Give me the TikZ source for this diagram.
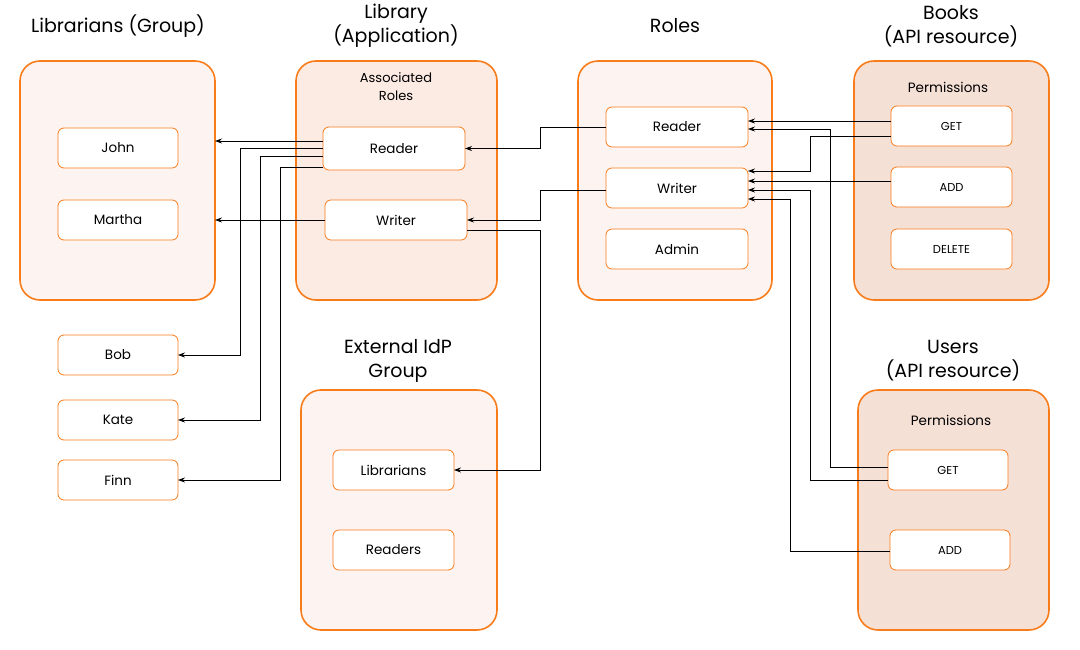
\documentclass[tikz,border=0pt]{standalone}
\usepackage{fontspec}
\setmainfont{Poppins}
\usetikzlibrary{arrows.meta}
\definecolor{frame}{HTML}{F97C1B}
\definecolor{paleA}{HTML}{FDF4F1}
\definecolor{paleB}{HTML}{FCEBE3}
\definecolor{paleC}{HTML}{F5E0D6}
\begin{document}
\begin{tikzpicture}[font=\fontsize{13.5}{17}\selectfont,>={Stealth[length=7pt,width=5pt]},x=1pt,y=-1pt]
    \tikzset{
        group/.style={
            draw=frame,
            line width=1.6pt,
            rounded corners=20pt,
            inner sep=0pt,
            outer sep=0pt
        },
        item/.style={
            draw=frame,
            line width=0.8pt,
            fill=white,
            rounded corners=6pt,
            minimum width=120pt,
            minimum height=40pt,
            inner sep=0pt,
            outer sep=0pt
        },
        perm/.style={item,font=\fontsize{11.5}{14}\selectfont},
        heading/.style={align=center,font=\fontsize{19}{24}\selectfont},
        link/.style={->,line width=0.8pt}
    }
    \useasboundingbox (0,0) rectangle (1080,650);

    % titles
    \node[heading] (tgroup) at (118,26) {Librarians (Group)};
    \node[heading] (tapp) at (396,26) {Library\\(Application)};
    \node[heading] (troles) at (675,26) {Roles};
    \node[heading] (tbooks) at (951,26) {Books\\(API resource)};
    \node[heading] (tidp) at (398,361) {External IdP\\Group};
    \node[heading] (tusers) at (953,361) {Users\\(API resource)};

    % containers
    \node[group,fill=paleA,minimum width=195pt,minimum height=239pt] (libgroup) at (117.5,180.5) {};
    \node[group,fill=paleB,minimum width=201pt,minimum height=239pt] (libapp) at (396.5,180.5) {};
    \node[group,fill=paleA,minimum width=194pt,minimum height=239pt] (roles) at (675,180.5) {};
    \node[group,fill=paleC,minimum width=195pt,minimum height=239pt] (books) at (951.5,180.5) {};
    \node[group,fill=paleA,minimum width=196pt,minimum height=240pt] (idp) at (399,510) {};
    \node[group,fill=paleC,minimum width=191pt,minimum height=240pt] (users) at (953.5,510) {};

    % members
    \node[item] (john) at (118,148) {John};
    \node[item] (martha) at (118,220) {Martha};
    \node[item] (bob) at (118,355) {Bob};
    \node[item] (kate) at (118,420) {Kate};
    \node[item] (finn) at (118,480) {Finn};

    % application roles
    \node[align=center,font=\fontsize{13}{18}\selectfont] (assoc) at (396,87) {Associated\\Roles};
    \node[item,minimum width=142pt,minimum height=43pt] (libreader) at (394,148.5) {Reader};
    \node[item,minimum width=142pt] (libwriter) at (396,220) {Writer};

    % roles
    \node[item,minimum width=142pt] (rreader) at (677,127) {Reader};
    \node[item,minimum width=142pt] (rwriter) at (677,188) {Writer};
    \node[item,minimum width=142pt] (radmin) at (677,249) {Admin};

    % books permissions
    \node (bperm) at (948,87) {Permissions};
    \node[perm,minimum width=121pt] (bget) at (951.5,126) {GET};
    \node[perm,minimum width=121pt] (badd) at (951.5,187) {ADD};
    \node[perm,minimum width=121pt] (bdelete) at (951.5,249) {DELETE};

    % users permissions
    \node (uperm) at (951,420) {Permissions};
    \node[perm] (uget) at (948,470) {GET};
    \node[perm] (uadd) at (950,550) {ADD};

    % idp groups
    \node[item,minimum width=121pt] (idplib) at (393.5,470) {Librarians};
    \node[item,minimum width=121pt] (idpread) at (393.5,550) {Readers};

    % application -> users
    \coordinate (rtop) at ([yshift=7.5pt]libreader.west);
    \draw[link] (rtop) -- (rtop -| libgroup.east);
    \draw[link] (libwriter.west) -- (libwriter.west -| libgroup.east);
    \draw[link] (libreader.west) -| ([xshift=62pt]bob.east) -- (bob.east);
    \draw[link] ([yshift=-8pt]libreader.west) -| ([xshift=82pt]kate.east) -- (kate.east);
    \draw[link] ([yshift=-19pt]libreader.west) -| ([xshift=102pt]finn.east) -- (finn.east);
    \draw[link] ([yshift=-10.5pt]libwriter.east) -| ([xshift=86pt]idplib.east) -- (idplib.east);

    % roles -> application
    \draw[link] (rreader.west) -| ([xshift=75pt]libreader.east) -- (libreader.east);
    \draw[link] ([yshift=-2pt]rwriter.west) -| ([xshift=73pt]libwriter.east) -- (libwriter.east);

    % permissions -> roles
    \draw[link] ([yshift=5pt]bget.west) -- ([yshift=6pt]rreader.east);
    \draw[link] ([yshift=-10pt]bget.west) -| ([xshift=62pt,yshift=17pt]rwriter.east) -- ([yshift=17pt]rwriter.east);
    \draw[link] ([yshift=6pt]badd.west) -- ([yshift=7pt]rwriter.east);
    \draw[link] ([yshift=3pt]uget.west) -| ([xshift=82pt,yshift=-2pt]rreader.east) -- ([yshift=-2pt]rreader.east);
    \draw[link] ([yshift=-10pt]uget.west) -| ([xshift=62pt,yshift=-2pt]rwriter.east) -- ([yshift=-2pt]rwriter.east);
    \draw[link] ([yshift=-1pt]uadd.west) -| ([xshift=42pt,yshift=-11pt]rwriter.east) -- ([yshift=-11pt]rwriter.east);
\end{tikzpicture}
\end{document}
